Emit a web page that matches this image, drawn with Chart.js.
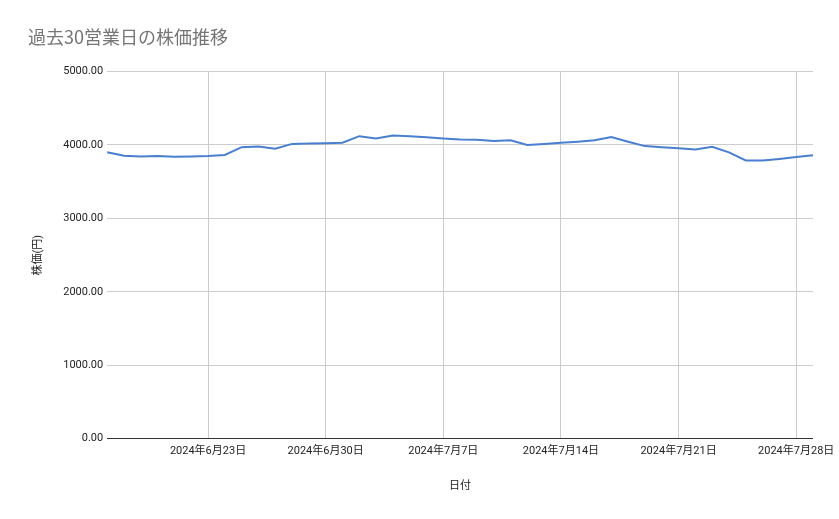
<!DOCTYPE html>
<html><head><meta charset="utf-8">
<script src="https://cdn.jsdelivr.net/npm/chart.js@4"></script>
<style>html,body{margin:0;background:#fff}#w{width:839px;height:519px;position:relative}</style>
</head><body><div id="w"><canvas id="c"></canvas></div>
<script>
const dates = ["2024年6月17日","2024年6月18日","2024年6月19日","2024年6月20日","2024年6月21日","2024年6月22日","2024年6月23日","2024年6月24日","2024年6月25日","2024年6月26日","2024年6月27日","2024年6月28日","2024年6月29日","2024年6月30日","2024年7月1日","2024年7月2日","2024年7月3日","2024年7月4日","2024年7月5日","2024年7月6日","2024年7月7日","2024年7月8日","2024年7月9日","2024年7月10日","2024年7月11日","2024年7月12日","2024年7月13日","2024年7月14日","2024年7月15日","2024年7月16日","2024年7月17日","2024年7月18日","2024年7月19日","2024年7月20日","2024年7月21日","2024年7月22日","2024年7月23日","2024年7月24日","2024年7月25日","2024年7月26日","2024年7月27日","2024年7月28日","2024年7月29日"];
const prices = [3900,3855,3845,3850,3840,3845,3850,3865,3970,3980,3950,4015,4020,4025,4030,4120,4090,4130,4120,4105,4090,4075,4070,4055,4065,4000,4015,4030,4045,4065,4110,4045,3985,3970,3955,3940,3975,3900,3790,3790,3810,3835,3860];
const yTicks = [0,1000,2000,3000,4000,5000];
const font = {family:'Roboto, "Noto Sans CJK JP", sans-serif', size:11};
const isMajor = i => (i - 6) % 7 === 0 && i >= 6;
new Chart(document.getElementById('c'), {
  type:'line',
  data:{labels:dates, datasets:[{data:prices, borderColor:'#4a7fcf', borderWidth:2, pointRadius:0, tension:0, fill:false}]},
  options:{
    responsive:true, maintainAspectRatio:false, animation:false,
    layout:{padding:{left:28,right:26,top:0,bottom:22}},
    plugins:{legend:{display:false}, tooltip:{enabled:false},
      title:{display:true, text:'過去30営業日の株価推移', align:'start', color:'#757575',
        font:{family:'"Noto Sans CJK JP", sans-serif', size:18, weight:'normal'}, padding:{top:26,bottom:24}}},
    scales:{
      x:{offset:false,
        grid:{color:c => isMajor(c.index) ? '#cccccc' : 'rgba(0,0,0,0)', drawTicks:false},
        border:{display:false},
        ticks:{autoSkip:false, maxRotation:0, color:'#222', font, padding:6,
          callback:(v,i)=> isMajor(i) ? dates[i] : ''},
        title:{display:true, text:'日付', color:'#222', font:{...font,size:11}, padding:{top:16}}},
      y:{min:0, max:5000, afterBuildTicks:a=>{a.ticks=yTicks.map(v=>({value:v}));},
        grid:{color:c=>c.tick.value===0?'#333':'#cccccc', drawTicks:false},
        border:{display:false},
        ticks:{color:'#222', font, padding:4, callback:v=>v.toFixed(2)},
        title:{display:true, text:'株価(円)', color:'#222', font:{...font,size:11}, padding:{bottom:14}}}
    }
  }
});
</script></body></html>
